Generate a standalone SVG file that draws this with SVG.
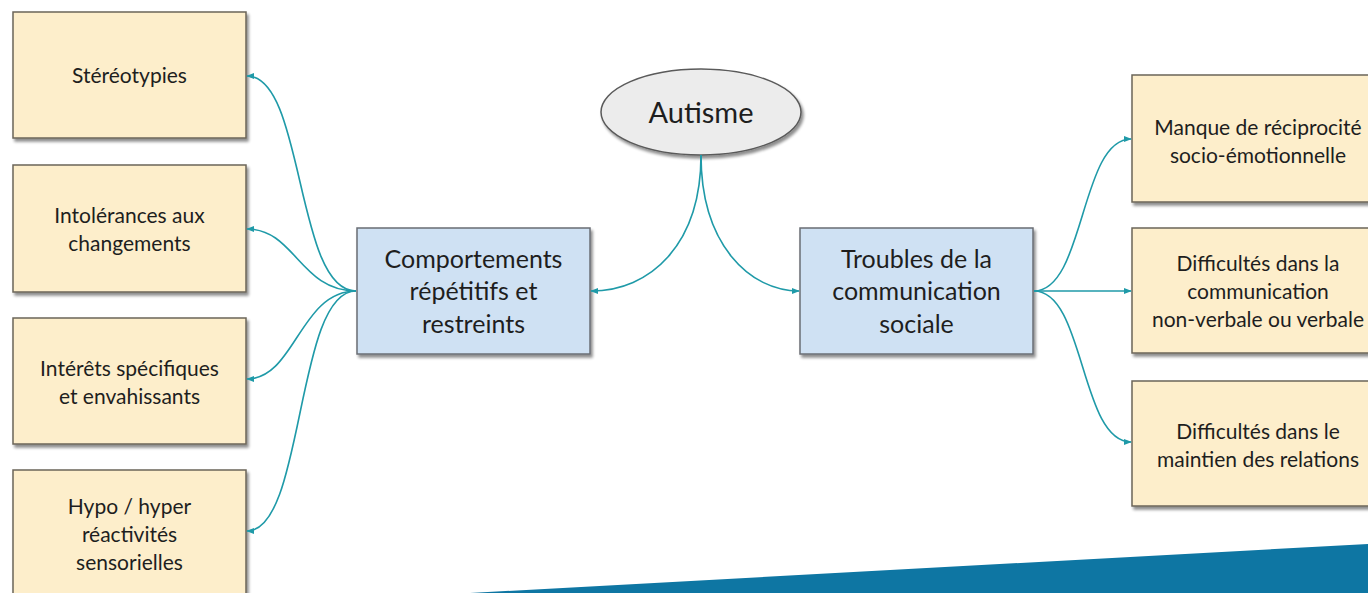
<svg xmlns="http://www.w3.org/2000/svg" width="1368" height="593" viewBox="0 0 1368 593">
<defs>
<marker id="ah" viewBox="0 0 10 10" refX="9" refY="5" markerWidth="8" markerHeight="8" markerUnits="userSpaceOnUse" orient="auto">
<path d="M0,1 L10,5 L0,9 z" fill="#1f9aa8"/>
</marker>
<filter id="sh" x="-10%" y="-10%" width="130%" height="130%">
<feGaussianBlur in="SourceAlpha" stdDeviation="1.5"/>
<feOffset dx="2" dy="3" result="b"/>
<feComponentTransfer><feFuncA type="linear" slope="0.45"/></feComponentTransfer>
<feMerge><feMergeNode/><feMergeNode in="SourceGraphic"/></feMerge>
</filter>
</defs>
<style>
.leaf{fill:#fdeecb;stroke:#6b6558;stroke-width:1.5;filter:url(#sh)}
.mid{fill:#cfe1f3;stroke:#6a6e74;stroke-width:1.5;filter:url(#sh)}
.root{fill:#ececec;stroke:#5a5a5a;stroke-width:1.5;filter:url(#sh)}
text{font-family:Lato,"Open Sans","Liberation Sans",sans-serif;fill:#1e1e1e;text-anchor:middle}
.s{font-size:21px}
.m{font-size:25px}
.l{font-size:29px}
.c{fill:none;stroke:#1f9aa8;stroke-width:1.6;marker-end:url(#ah)}
</style>
<rect width="1368" height="593" fill="#ffffff"/>
<polygon points="470,593 1368,544 1368,593" fill="#0e76a3"/>

<g id="n-stereo"><rect class="leaf" x="13" y="12" width="233" height="126"/><text class="s" x="129.5" y="83">Stéréotypies</text></g>
<g id="n-intol"><rect class="leaf" x="13" y="165" width="233" height="127"/><text class="s" x="129.5" y="223">Intolérances aux</text><text class="s" x="129.5" y="251">changements</text></g>
<g id="n-inter"><rect class="leaf" x="13" y="318" width="233" height="126"/><text class="s" x="129.5" y="376">Intérêts spécifiques</text><text class="s" x="129.5" y="404">et envahissants</text></g>
<g id="n-hypo"><rect class="leaf" x="13" y="470" width="233" height="140"/><text class="s" x="129.5" y="514">Hypo / hyper</text><text class="s" x="129.5" y="542">réactivités</text><text class="s" x="129.5" y="570">sensorielles</text></g>

<g id="n-comp"><rect class="mid" x="357" y="228" width="233" height="126"/><text class="m" x="473.5" y="268">Comportements</text><text class="m" x="473.5" y="300">répétitifs et</text><text class="m" x="473.5" y="333">restreints</text></g>
<g id="n-autisme"><ellipse class="root" cx="701" cy="112" rx="100" ry="43"/><text class="l" x="701" y="123">Autisme</text></g>
<g id="n-troubles"><rect class="mid" x="800" y="228" width="233" height="126"/><text class="m" x="916.5" y="268">Troubles de la</text><text class="m" x="916.5" y="300">communication</text><text class="m" x="916.5" y="333">sociale</text></g>

<g id="n-manque"><rect class="leaf" x="1132" y="75" width="252" height="127"/><text class="s" x="1258" y="135">Manque de réciprocité</text><text class="s" x="1258" y="163">socio-émotionnelle</text></g>
<g id="n-diffcom"><rect class="leaf" x="1132" y="228" width="252" height="125"/><text class="s" x="1258" y="271">Difficultés dans la</text><text class="s" x="1258" y="299">communication</text><text class="s" x="1258" y="327">non-verbale ou verbale</text></g>
<g id="n-diffrel"><rect class="leaf" x="1132" y="381" width="252" height="125"/><text class="s" x="1258" y="439">Difficultés dans le</text><text class="s" x="1258" y="467">maintien des relations</text></g>

<g id="connectors">
<path class="c" d="M701,155 C701,245 650,291 591,291"/>
<path class="c" d="M701,155 C701,245 750,291 799,291"/>
<path class="c" d="M356,291 C295,291 305,76 247,76"/>
<path class="c" d="M356,291 C300,291 295,229 247,229"/>
<path class="c" d="M356,291 C300,291 295,379 247,379"/>
<path class="c" d="M356,291 C295,291 305,531 247,531"/>
<path class="c" d="M1034,291 C1085,291 1080,139 1131,139"/>
<path class="c" d="M1034,291 L1131,291"/>
<path class="c" d="M1034,291 C1085,291 1080,442 1131,442"/>
</g>
</svg>
